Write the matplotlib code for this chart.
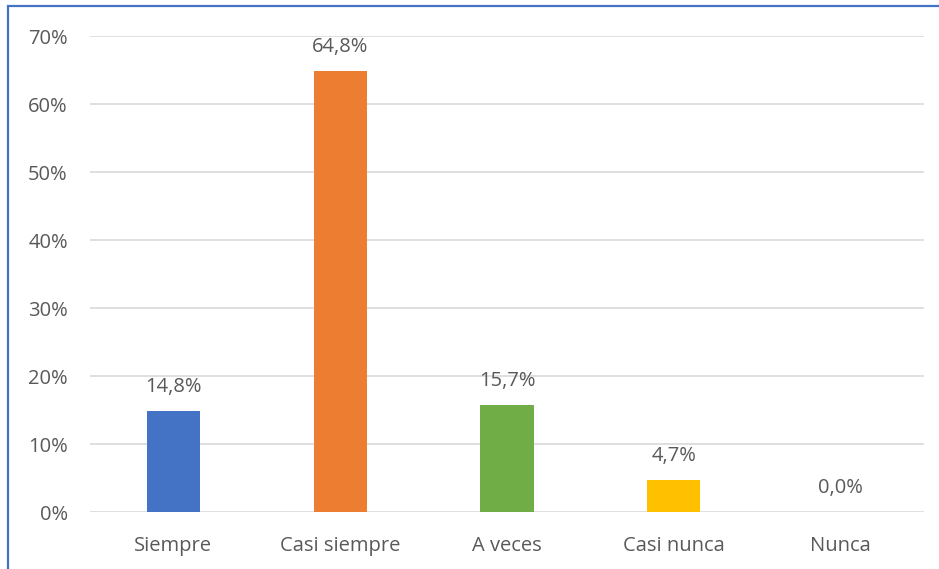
import matplotlib.pyplot as plt
from matplotlib.patches import Rectangle

categories = ["Siempre", "Casi siempre", "A veces", "Casi nunca", "Nunca"]
values = [14.8, 64.8, 15.7, 4.7, 0.0]
colors = ["#4472C4", "#ED7D31", "#70AD47", "#FFC000", "#A5A5A5"]
yticks = [0, 10, 20, 30, 40, 50, 60, 70]

plt.rcParams['font.family'] = ['Open Sans', 'DejaVu Sans']
text_color = "#595959"

W, H = 939, 569
fig = plt.figure(figsize=(W / 100, H / 100), dpi=100)
ax = fig.add_axes([90 / W, 1 - 512 / H, (924 - 90) / W, (512 - 36) / H])

x = range(len(categories))
ax.bar(x, values, width=0.318, color=colors, zorder=3)
for xi, v in zip(x, values):
    ax.text(xi, v + 2.1, f"{v:.1f}%".replace(".", ","), ha="center", va="bottom",
            fontsize=14.5, color=text_color)

ax.set_xlim(-0.5, len(categories) - 0.5)
ax.set_ylim(0, 70)
ax.set_yticks(yticks)
ax.set_yticklabels([f"{t}%" for t in yticks])
ax.set_xticks(list(x))
ax.set_xticklabels(categories)
ax.tick_params(length=0, labelsize=14.5, labelcolor=text_color)
ax.tick_params(axis="y", pad=16)
ax.tick_params(axis="x", pad=17)
ax.grid(axis="y", color="#D9D9D9", linewidth=1.2, zorder=0)
for s in ax.spines.values():
    s.set_visible(False)

# outer chart border
fig.patches.append(Rectangle((8 / W, -0.1), 1.2, 1 - 6 / H + 0.1, transform=fig.transFigure,
                             fill=False, edgecolor="#4472C4", linewidth=1.6))

fig.savefig("out.png", dpi=100)
